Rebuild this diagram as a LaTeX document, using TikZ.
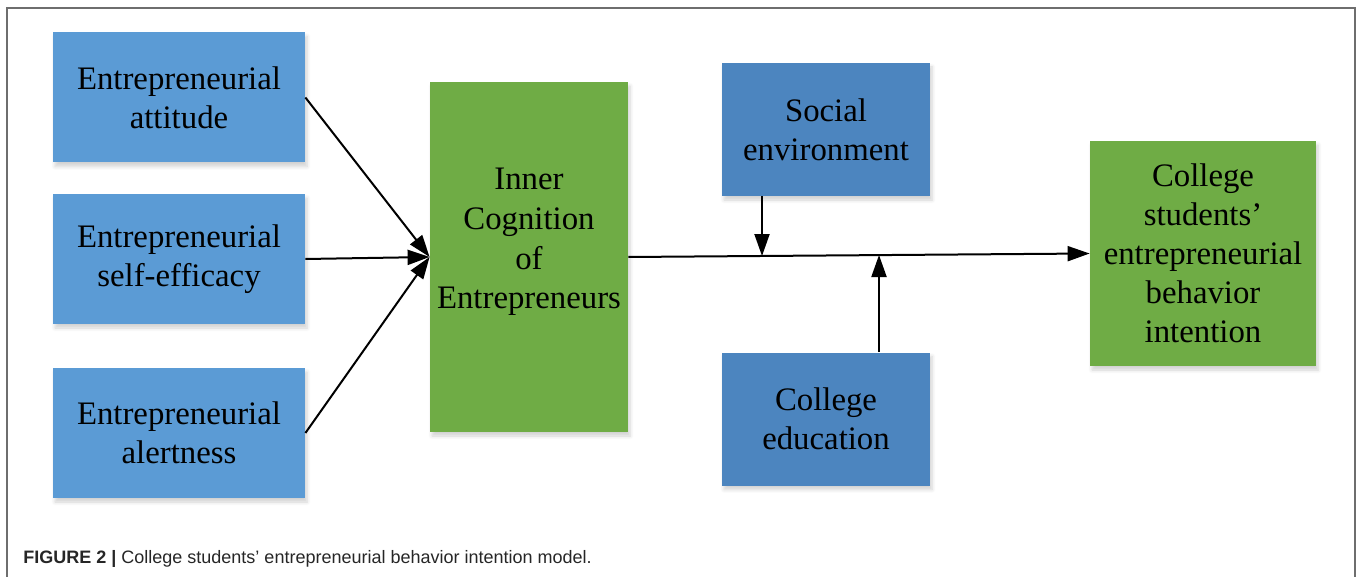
\documentclass[tikz,border=0pt]{standalone}
\usepackage{fontspec}
\setmainfont{Liberation Serif}
\newfontfamily\capfont{Liberation Sans}
\usepackage{xcolor}
\usetikzlibrary{arrows.meta,calc,shadows.blur}
\definecolor{lightblue}{HTML}{5B9BD5}
\definecolor{darkblue}{HTML}{4C85BF}
\definecolor{boxgreen}{HTML}{6FAC45}
\definecolor{framegray}{HTML}{6E6E6E}
\tikzset{
	box/.style={
			draw=none, align=center, inner sep=0pt,
			font=\fontsize{16.4}{19.5}\selectfont,
			blur shadow={shadow xshift=1pt, shadow yshift=-2pt, shadow opacity=18, shadow blur steps=6}
		},
	factor/.style={box, fill=lightblue, minimum width=126pt, minimum height=65pt},
	context/.style={box, fill=darkblue, minimum width=104pt, minimum height=66.5pt},
	outcome/.style={box, fill=boxgreen},
	link/.style={line width=1pt, -{Triangle[length=11pt, width=7.5pt]}}
}

\begin{document}
\begin{tikzpicture}[baseline={(current bounding box.center)}, x=0.5pt, y=-0.5pt]
	\useasboundingbox (0,0) rectangle (1358,577);
	\draw[framegray, line width=0.8pt] (7,577) -- (7,8) -- (1355,8) -- (1355,577);

	\node[factor] (att) at (179,97.5) {Entrepreneurial\\attitude};
	\node[factor] (eff) at (179,259) {Entrepreneurial\\self-efficacy};
	\node[factor] (alert) at (179,433) {Entrepreneurial\\alertness};
	\node[outcome, minimum width=99pt, minimum height=175pt,
		label={[align=center, font=\fontsize{16.4}{19.8}\selectfont, yshift=7.5pt]center:Inner\\Cognition\\of\\Entrepreneurs}] (inner) at (529,257) {};
	\node[context] (social) at (826,129.5) {Social\\environment};
	\node[context] (educ) at (826,419) {College\\education};
	\node[outcome, minimum width=113pt, minimum height=112.5pt] (intent) at (1203,253.5)
		{College\\students’\\entrepreneurial\\behavior\\intention};

	\coordinate (s1) at (762,256);
	\coordinate (e1) at (879,255);

	\draw[link] (att.east) -- (inner.west);
	\draw[link] (eff.east) -- (inner.west);
	\draw[link] (alert.east) -- (inner.west);
	\draw[link] (inner.east) -- (intent.west);
	\draw[link] (social.south -| s1) -- (s1);
	\draw[link] (educ.north -| e1) -- (e1);

	\node[anchor=base west, inner sep=0pt, font=\capfont\fontsize{9}{11}\selectfont, text=black!85] (caption) at (23,563)
		{\textbf{FIGURE 2 |} College students’ entrepreneurial behavior intention model.};
\end{tikzpicture}
\end{document}
